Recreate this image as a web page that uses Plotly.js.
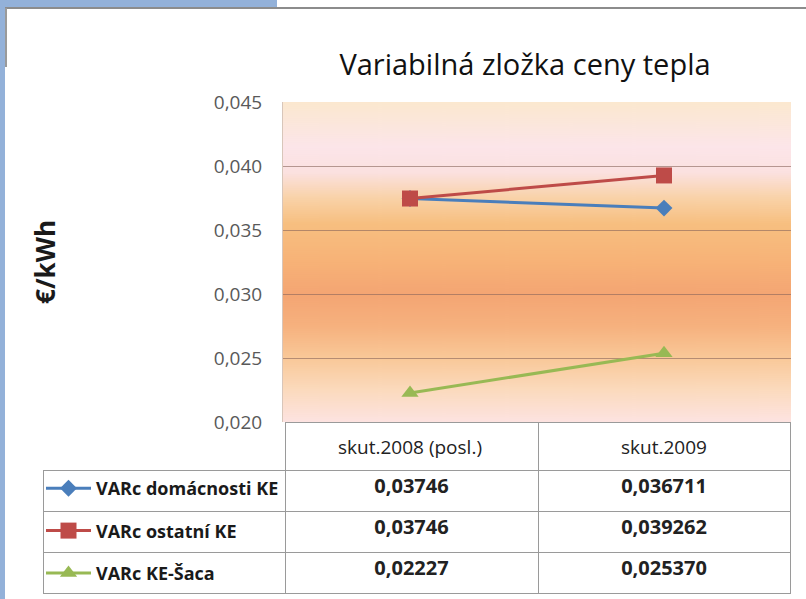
<!DOCTYPE html>
<html>
<head>
<meta charset="utf-8">
<script src="https://cdn.plot.ly/plotly-3.0.1.min.js"></script>
<style>
html,body{margin:0;padding:0;background:#ffffff;}
#chart{width:806px;height:599px;}
</style>
</head>
<body>
<div id="chart"></div>
<script>
// ---- data ----
const categories = ["skut.2008 (posl.)", "skut.2009"];
const seriesNames = ["VARc domácnosti KE", "VARc ostatní KE", "VARc KE-Šaca"];
const domacnosti = [0.03746, 0.036711];
const ostatni = [0.03746, 0.039262];
const saca = [0.02227, 0.025370];
const tableDecimals = [5, 6];
const yTickVals = [0.020, 0.025, 0.030, 0.035, 0.040, 0.045];
const chartTitle = "Variabilná zložka ceny tepla";
const yTitle = "€/kWh";

const allSeries = [domacnosti, ostatni, saca];
const colors = ["#4a7ebb", "#be4b48", "#98b954"];
const symbols = ["diamond", "square", "triangle-up"];
const msizes = [13, 16, 15];

const W = 806, H = 599;
const px = v => v / W, py = v => 1 - v / H;

// gradient background for the plot area
function gradientURL() {
  const c = document.createElement('canvas');
  c.width = 8; c.height = 320;
  const g = c.getContext('2d');
  const gr = g.createLinearGradient(0, 0, 0, 320);
  gr.addColorStop(0.00, '#fbe8cf');
  gr.addColorStop(0.14, '#fce5e9');
  gr.addColorStop(0.22, '#fbe1e0');
  gr.addColorStop(0.30, '#f9d2a8');
  gr.addColorStop(0.38, '#f7bf80');
  gr.addColorStop(0.50, '#f7b277');
  gr.addColorStop(0.60, '#f4a573');
  gr.addColorStop(0.70, '#f6b17e');
  gr.addColorStop(0.80, '#f9c898');
  gr.addColorStop(0.90, '#fbdabd');
  gr.addColorStop(1.00, '#fde3e1');
  g.fillStyle = gr;
  g.fillRect(0, 0, 8, 320);
  return c.toDataURL('image/png');
}

const fontFam = "'Open Sans', Lato, sans-serif";

const traces = allSeries.map((s, i) => ({
  type: 'scatter',
  mode: 'lines+markers',
  x: categories,
  y: s,
  name: seriesNames[i],
  legendgroup: 'g' + i,
  line: {color: colors[i], width: 3},
  marker: {symbol: symbols[i], size: msizes[i], color: colors[i]},
  xaxis: 'x', yaxis: 'y',
  cliponaxis: false
}));

const fmt = (v, d) => v.toFixed(d).replace('.', ',');
const colVals = categories.map((c, ci) => allSeries.map(s => fmt(s[ci], tableDecimals[ci])));

traces.push({
  type: 'table',
  domain: {x: [px(43), px(790)], y: [py(596), py(422)]},
  columnwidth: [242, 253, 252],
  header: {
    values: ['', '', ''],
    height: 48,
    align: 'center',
    fill: {color: 'rgba(0,0,0,0)'},
    line: {color: ['rgba(0,0,0,0)', '#9a9a9a', '#9a9a9a'], width: 1},
    font: {family: fontFam, size: 18, color: '#222222'}
  },
  cells: {
    values: [seriesNames.map(() => ''), colVals[0], colVals[1]],
    height: 41,
    align: 'center',
    fill: {color: 'white'},
    line: {color: '#9a9a9a', width: 1},
    font: {family: fontFam, size: 20, color: '#222222', weight: 'bold'}
  }
});

const layout = {
  width: W, height: H,
  margin: {l: 0, r: 0, t: 0, b: 0},
  paper_bgcolor: '#ffffff',
  plot_bgcolor: 'rgba(0,0,0,0)',
  separators: ', ',
  font: {family: fontFam},
  title: {
    text: chartTitle,
    x: px(525), xanchor: 'center',
    y: py(65), yanchor: 'middle',
    xref: 'paper', yref: 'paper',
    font: {family: fontFam, size: 29, color: '#111111'}
  },
  xaxis: {
    domain: [px(283), px(791)],
    type: 'category',
    range: [-0.5, 1.5],
    showticklabels: true,
    ticks: '',
    ticklabelstandoff: 12,
    tickfont: {family: fontFam, size: 19, color: '#222222'},
    showgrid: false,
    zeroline: false,
    fixedrange: true
  },
  yaxis: {
    domain: [py(422), py(102)],
    range: [0.020, 0.045],
    tickvals: yTickVals,
    tickformat: '.3f',
    showgrid: true,
    gridcolor: 'rgba(135,100,90,0.6)',
    gridwidth: 1,
    zeroline: false,
    showline: true,
    linecolor: 'rgba(190,160,140,0.6)',
    ticks: '',
    ticklabelstandoff: 16,
    tickfont: {family: fontFam, size: 19, color: '#595959'},
    title: {
      text: yTitle,
      standoff: 150,
      font: {family: fontFam, size: 26, color: '#1a1a1a', weight: 'bold'}
    },
    fixedrange: true
  },
  showlegend: true,
  legend: {
    x: px(41), xanchor: 'left',
    y: py(470), yanchor: 'top',
    bgcolor: 'rgba(0,0,0,0)',
    borderwidth: 0,
    traceorder: 'grouped',
    tracegroupgap: 16,
    itemwidth: 45,
    font: {family: fontFam, size: 18, color: '#1a1a1a', weight: 'bold'}
  },
  images: [{
    source: gradientURL(),
    xref: 'x domain', yref: 'y domain',
    x: 0, y: 1, sizex: 1, sizey: 1,
    xanchor: 'left', yanchor: 'top',
    sizing: 'stretch', layer: 'below'
  }],
  shapes: [
    {type: 'rect', xref: 'paper', yref: 'paper', x0: 0, x1: px(277), y0: py(7), y1: 1, fillcolor: '#93b1d9', line: {width: 0}, layer: 'below'},
    {type: 'rect', xref: 'paper', yref: 'paper', x0: 0, x1: px(5), y0: 0, y1: 1, fillcolor: '#93b1d9', line: {width: 0}, layer: 'below'},
    {type: 'line', xref: 'paper', yref: 'paper', x0: px(5), x1: 1, y0: py(8), y1: py(8), line: {color: '#8c8c8c', width: 2}, layer: 'below'},
    {type: 'line', xref: 'paper', yref: 'paper', x0: px(6), x1: px(6), y0: py(8), y1: py(67), line: {color: '#9a9a9a', width: 2}, layer: 'below'}
  ]
};

Plotly.newPlot('chart', traces, layout, {displayModeBar: false, staticPlot: true});
</script>
</body>
</html>
